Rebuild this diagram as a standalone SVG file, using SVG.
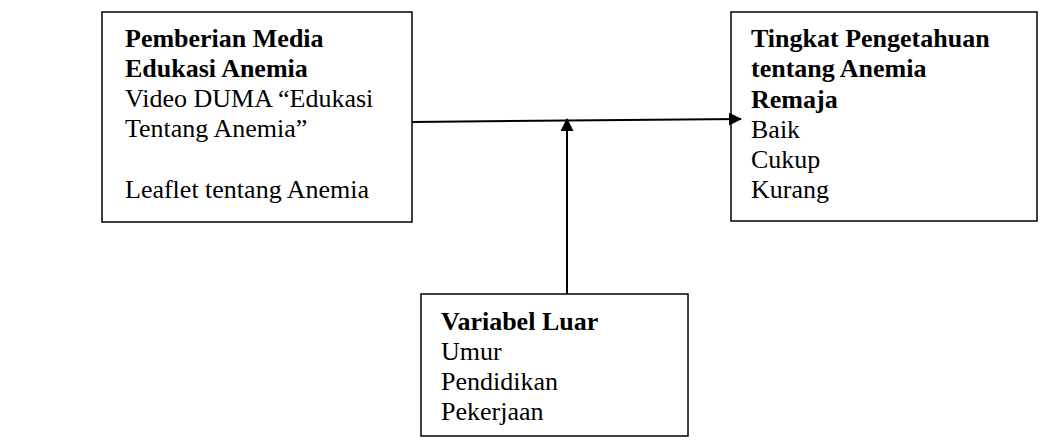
<svg xmlns="http://www.w3.org/2000/svg" width="1040" height="442" viewBox="0 0 1040 442">
<style>
.box{fill:#fff;stroke:#000;stroke-width:1.5}
.t{font-family:"Liberation Serif","Times New Roman",serif;font-size:26px;fill:#000}
.b{font-weight:bold}
.ln{stroke:#000;stroke-width:2;fill:none}
</style>
<defs>
<marker id="ah" markerWidth="13" markerHeight="13" refX="12" refY="6.5" orient="auto" markerUnits="userSpaceOnUse">
<path d="M0,0 L13,6.5 L0,13 Z" fill="#000"/>
</marker>
</defs>
<rect width="1040" height="442" fill="#fff"/>
<g id="node-media">
<rect class="box" x="102" y="12" width="310" height="210"/>
<text class="t b" x="125" y="47">Pemberian Media</text>
<text class="t b" x="125" y="77">Edukasi Anemia</text>
<text class="t" x="125" y="107">Video DUMA “Edukasi</text>
<text class="t" x="125" y="137">Tentang Anemia”</text>
<text class="t" x="125" y="198">Leaflet tentang Anemia</text>
</g>
<g id="node-pengetahuan">
<rect class="box" x="731" y="12" width="306" height="209"/>
<text class="t b" x="751" y="47">Tingkat Pengetahuan</text>
<text class="t b" x="751" y="77">tentang Anemia</text>
<text class="t b" x="751" y="108">Remaja</text>
<text class="t" x="751" y="138">Baik</text>
<text class="t" x="751" y="168">Cukup</text>
<text class="t" x="751" y="198">Kurang</text>
</g>
<g id="node-luar">
<rect class="box" x="421" y="294" width="267" height="142"/>
<text class="t b" x="441" y="330">Variabel Luar</text>
<text class="t" x="441" y="360">Umur</text>
<text class="t" x="441" y="390">Pendidikan</text>
<text class="t" x="441" y="420">Pekerjaan</text>
</g>
<g id="connectors">
<line class="ln" x1="412" y1="122" x2="741" y2="119" marker-end="url(#ah)"/>
<line class="ln" x1="567" y1="294" x2="567" y2="119" marker-end="url(#ah)"/>
</g>
</svg>
